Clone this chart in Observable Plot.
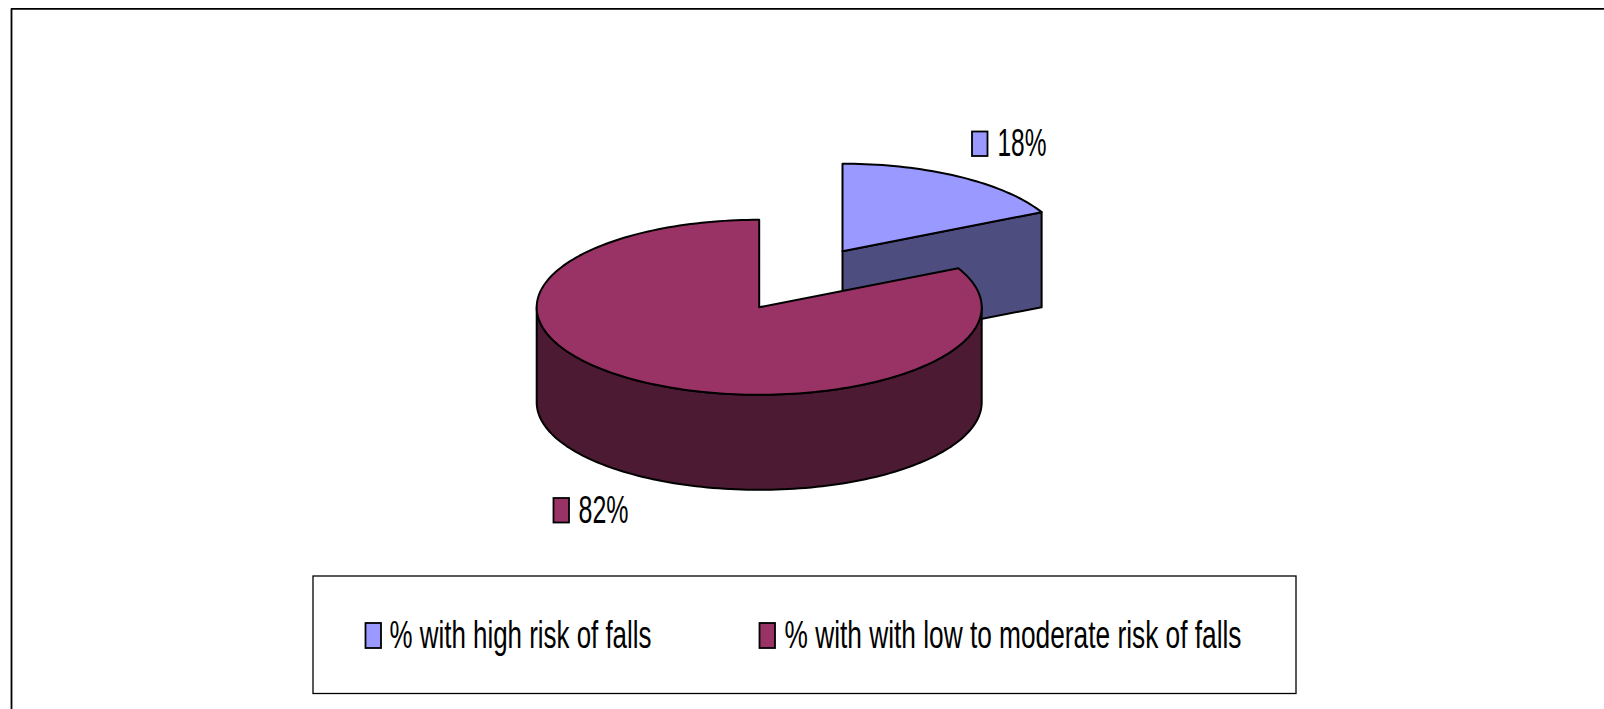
<!DOCTYPE html>
<html>
<head>
<meta charset="utf-8">
<style>html,body{margin:0;padding:0;background:#fff;overflow:hidden}svg{display:block}</style>
<script src="https://cdn.jsdelivr.net/npm/d3@7"></script>
<script src="https://cdn.jsdelivr.net/npm/@observablehq/plot@0.6"></script>
</head>
<body>
<div id="chart"></div>
<script>
const categories = ["% with high risk of falls", "% with with low to moderate risk of falls"];
const shares = [18, 82];
const shareLabels = ["18%", "82%"];
const topColors = ["#9999FF", "#993366"];
const sideColors = ["#4D4D80", "#4D1A33"];

const W = 1604, H = 709;
const rx = 222.5, ry = 87.5, depth = 95;
const mainCentre = [758.7, 306.8];
const explodedCentre = [842, 250.7];
const perspectiveShift = -1.3; // the tilted view pulls the cut slightly toward 12 o'clock
const fontFamily = "'Liberation Sans',Arial,sans-serif";

const total = d3.sum(shares);
const a0 = 0, a1 = shares[0] / total * 360 + perspectiveShift, a2 = 360;
const rad = d => d * Math.PI / 180;
function rim([cx, cy], from, to, dy = 0) {
  const pts = [];
  const n = Math.max(2, Math.ceil(Math.abs(to - from) / 1.5));
  for (let i = 0; i <= n; i++) {
    const a = rad(from + (to - from) * i / n);
    pts.push([cx + rx * Math.sin(a), cy - ry * Math.cos(a) + dy]);
  }
  return pts;
}
function poly(id, fill, pts) {
  return pts.concat([pts[0]]).map(([x, y]) => ({id, fill, x, y}));
}

const high = explodedCentre, low = mainCentre;
const tip = rim(high, a1, a1)[0];
const faces = [
  poly("hs", sideColors[0], [high, tip, [tip[0], tip[1] + depth], [high[0], high[1] + depth]]),
  poly("ht", topColors[0], [high, ...rim(high, a0, a1)]),
  poly("ls", sideColors[1], [...rim(low, 90, 270), ...rim(low, 270, 90, depth)]),
  poly("lt", topColors[1], [low, ...rim(low, a1, a2)])
].flat();

const swatches = [
  {x1: 972, x2: 987.5, y1: 131.5, y2: 156, fill: topColors[0]},
  {x1: 553.5, x2: 569, y1: 498, y2: 522.5, fill: topColors[1]},
  {x1: 365.5, x2: 381, y1: 623, y2: 648, fill: topColors[0]},
  {x1: 759.5, x2: 775, y1: 623, y2: 648, fill: topColors[1]}
];
const labels = [
  {x: 997, y: 155.5, t: shareLabels[0], w: 49},
  {x: 578, y: 522.7, t: shareLabels[1], w: 50},
  {x: 389, y: 647, t: categories[0], w: 262},
  {x: 784, y: 647, t: categories[1], w: 457}
];
const chartFrame = [[11, H], [11, 8.3], [W, 8.3]].map(([x, y]) => ({x, y}));

const plot = Plot.plot({
  width: W, height: H,
  margin: 0,
  x: {domain: [0, W], range: [0, W], axis: null},
  y: {domain: [0, H], range: [0, H], axis: null},
  style: {background: "#fff"},
  marks: [
    Plot.line(chartFrame, {x: "x", y: "y", stroke: "#000", strokeWidth: 1.8, curve: "linear"}),
    Plot.rect([{}], {x1: () => 313, x2: () => 1296, y1: () => 576, y2: () => 693.5, fill: "#fff", stroke: "#000", strokeWidth: 1.3}),
    Plot.line(faces, {x: "x", y: "y", z: "id", fill: "fill", stroke: "#000", strokeWidth: 2, strokeLinejoin: "round", curve: "linear"}),
    Plot.rect(swatches, {x1: "x1", x2: "x2", y1: "y1", y2: "y2", fill: "fill", stroke: "#000", strokeWidth: 1.8}),
    Plot.text(labels, {
      x: "x", y: "y", text: "t", textAnchor: "start", lineAnchor: "bottom",
      fontSize: 38, fontFamily, fill: "#000",
      render(index, scales, values, dimensions, context, next) {
        const g = next(index, scales, values, dimensions, context);
        d3.select(g).selectAll("text").each(function (i) {
          this.setAttribute("textLength", labels[i].w);
          this.setAttribute("lengthAdjust", "spacingAndGlyphs");
        });
        return g;
      }
    })
  ]
});
document.getElementById("chart").append(plot);
</script>
</body>
</html>
